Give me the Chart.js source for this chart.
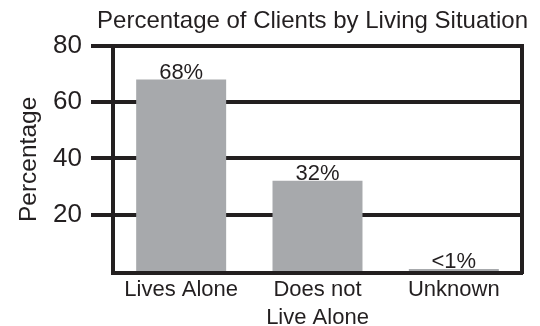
<!DOCTYPE html>
<html>
<head>
<meta charset="utf-8">
<script src="https://cdn.jsdelivr.net/npm/chart.js@4/dist/chart.umd.min.js"></script>
<style>
  html, body { margin: 0; padding: 0; background: #ffffff; }
  #wrap { width: 540px; height: 326px; }
</style>
</head>
<body>
<div id="wrap"><canvas id="chart" width="540" height="326"></canvas></div>
<script>
// Living situation of clients, in percent
const categories = [['Lives Alone'], ['Does not', 'Live Alone'], ['Unknown']];
const percentages = [68, 32, 0.7];
const valueLabels = ['68%', '32%', '<1%'];
const yTicks = [0, 20, 40, 60, 80];

const INK = '#231f20';
const BAR_GREY = '#a7a9ac';
const SANS = '"Liberation Sans", Arial, sans-serif';

// Writes the value text just above each bar
const barValueLabels = {
  id: 'barValueLabels',
  afterDatasetsDraw(chart) {
    const ctx = chart.ctx;
    const meta = chart.getDatasetMeta(0);
    ctx.save();
    ctx.font = '22px ' + SANS;
    ctx.fillStyle = INK;
    ctx.textAlign = 'center';
    ctx.textBaseline = 'alphabetic';
    meta.data.forEach((bar, i) => {
      ctx.fillText(valueLabels[i], bar.x, bar.y - 1);
    });
    ctx.restore();
  }
};

const isZeroTick = ctx => ctx.tick && ctx.tick.value === 0;

new Chart(document.getElementById('chart'), {
  type: 'bar',
  data: {
    labels: categories,
    datasets: [{
      data: percentages,
      backgroundColor: BAR_GREY,
      borderWidth: 0,
      barPercentage: 0.66,
      categoryPercentage: 1
    }]
  },
  options: {
    responsive: false,
    animation: false,
    devicePixelRatio: 1,
    layout: { padding: { left: 0, right: 12, top: 0, bottom: 0 } },
    plugins: {
      legend: { display: false },
      tooltip: { enabled: false },
      title: {
        display: true,
        text: 'Percentage of Clients by Living Situation',
        color: INK,
        fullSize: true,
        align: 'end',
        font: { family: SANS, size: 24, weight: 'normal', lineHeight: 1.2 },
        padding: { top: 7, bottom: 10 }
      }
    },
    scales: {
      x: {
        grid: { display: false, drawTicks: false },
        // the frame's bottom edge sits on top of the bar bases
        border: { display: true, color: INK, width: 4, z: 1 },
        ticks: {
          color: INK,
          padding: 3,
          font: { family: SANS, size: 22, lineHeight: 1.28 },
          maxRotation: 0,
          autoSkip: false
        },
        afterFit(scale) { scale.height = 53; }
      },
      y: {
        // zero lies on the upper edge of the bottom frame line
        min: -0.75,
        max: 80,
        afterBuildTicks(scale) {
          scale.ticks = yTicks.map(v => ({ value: v }));
        },
        grid: {
          color: ctx => isZeroTick(ctx) ? 'rgba(0,0,0,0)' : INK,
          lineWidth: ctx => isZeroTick(ctx) ? 0 : 4,
          drawTicks: true,
          tickLength: 22
        },
        border: { display: true, color: INK, width: 4 },
        ticks: {
          color: INK,
          padding: 9,
          font: { family: SANS, size: 26 },
          callback: v => (v === 0 ? '' : String(v))
        },
        title: {
          display: true,
          text: 'Percentage',
          color: INK,
          font: { family: SANS, size: 24.5, lineHeight: 1.2 },
          padding: { top: 15, bottom: 0 }
        },
        afterFit(scale) { scale.width = 113; }
      },
      frameRight: {
        type: 'linear',
        position: 'right',
        display: true,
        grid: { display: false, drawTicks: false },
        ticks: { display: false },
        border: { display: true, color: INK, width: 4 },
        afterFit(scale) { scale.width = 6; }
      }
    }
  },
  plugins: [barValueLabels]
});
</script>
</body>
</html>
